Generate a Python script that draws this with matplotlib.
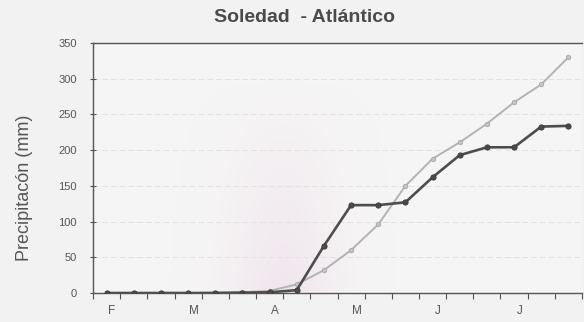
import matplotlib
matplotlib.use("Agg")
import matplotlib.pyplot as plt
import numpy as np
from matplotlib.ticker import FixedLocator

# Dekadal cumulative precipitation, Feb (1st dekad) to Jul (3rd dekad)
dekads = list(range(18))
month_labels = ["F", "M", "A", "M", "J", "J"]
month_positions = [0, 3, 6, 9, 12, 15]
series_dark = [0, 0, 0, 0, 0, 0.5, 1, 4, 66, 123, 123, 127, 162, 193, 204, 204, 233, 234]
series_light = [0, 0, 0, 0, 0.5, 1, 3, 12, 32, 60, 96, 150, 188, 211, 237, 267, 292, 330]
yticks = [0, 50, 100, 150, 200, 250, 300, 350]

W, H = 584, 322
fig = plt.figure(figsize=(W / 100, H / 100), dpi=100, facecolor="#f3f2f2")
ax = fig.add_axes([93 / W, 1 - 293 / H, (582 - 93) / W, (293 - 43) / H])
ax.set_facecolor("#f6f5f5")

# faint scanner tint behind the April area
gx = np.linspace(-0.5, 17.5, 200)
gy = np.linspace(0, 350, 100)
GX, GY = np.meshgrid(gx, gy)
tint = np.exp(-((GX - 6.5) / 2.0) ** 2) * np.clip(1 - GY / 300, 0, 1)
rgba = np.zeros(GX.shape + (4,))
rgba[..., 0] = 0.90
rgba[..., 1] = 0.80
rgba[..., 2] = 0.88
rgba[..., 3] = 0.35 * tint
ax.imshow(rgba, extent=(-0.5, 17.5, 0, 350), origin="lower", aspect="auto", zorder=0)

font = ["Liberation Sans Narrow", "Liberation Sans", "DejaVu Sans"]

ax.plot(dekads, series_light, color="#b3b3b3", lw=1.4, marker="o", ms=3.2,
        mfc="#c4c4c4", mec="#a8a8a8", mew=0.6, zorder=3)
ax.plot(dekads, series_dark, color="#4d4d4d", lw=1.9, marker="o", ms=3.8,
        mfc="#4a4a4a", mec="#3a3a3a", mew=0.6, zorder=4)

ax.set_xlim(-0.5, 17.5)
ax.set_ylim(0, 350)
ax.set_yticks(yticks)
ax.set_yticklabels([str(v) for v in yticks], fontfamily=font, fontsize=8, color="#555555")
ax.xaxis.set_major_locator(FixedLocator([d - 0.5 for d in range(19)]))
ax.set_xticklabels([])
ax.xaxis.set_minor_locator(FixedLocator([p + 0.2 for p in month_positions]))
ax.set_xticklabels(month_labels, minor=True, fontfamily=font, fontsize=8.5, color="#555555")
ax.tick_params(axis="x", which="major", direction="out", length=4, width=0.8, color="#555555")
ax.tick_params(axis="x", which="minor", length=0, pad=9)
ax.tick_params(axis="y", direction="inout", length=5, width=0.8, color="#555555", pad=9)

for v in yticks[1:-1]:
    ax.axhline(v, color="#e2e2e2", lw=0.7, ls=(0, (6, 3)), zorder=1)

for s in ["left", "bottom", "top"]:
    ax.spines[s].set_color("#555555")
    ax.spines[s].set_linewidth(1.0)
ax.spines["right"].set_visible(False)

fig.text(305 / W, 1 - 18 / H, "Soledad  - Atlántico", ha="center", va="center",
         fontsize=14, fontweight="bold", color="#4a4a4a", family=["Liberation Sans", "DejaVu Sans"])
fig.text(25 / W, 1 - 188 / H, "Precipitacón (mm)", rotation=90, ha="center", va="center",
         fontsize=13, color="#555555", family=["Liberation Sans", "DejaVu Sans"])

fig.savefig("out.png", dpi=100, facecolor=fig.get_facecolor())
